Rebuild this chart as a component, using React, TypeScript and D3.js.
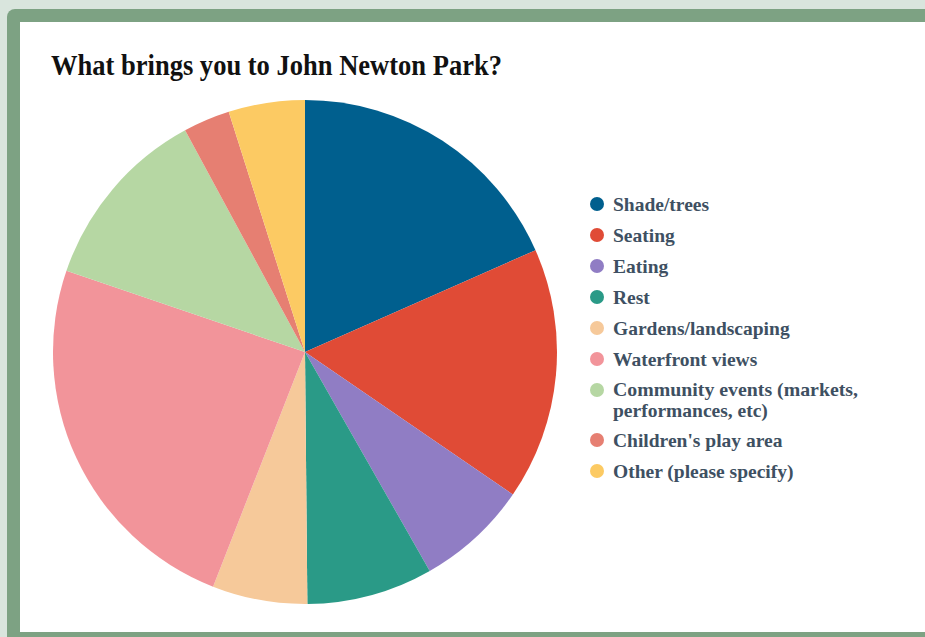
import React, { useEffect, useRef } from "react";
import * as d3 from "d3";

const categories = [
  "Shade/trees",
  "Seating",
  "Eating",
  "Rest",
  "Gardens/landscaping",
  "Waterfront views",
  "Community events (markets, performances, etc)",
  "Children's play area",
  "Other (please specify)",
];
const values = [18.4, 16.2, 7.2, 8.1, 6.1, 24.3, 11.9, 3.0, 4.9];
const colors = [
  "#005f8e",
  "#e04b36",
  "#907dc4",
  "#2a9a87",
  "#f6c99a",
  "#f2949a",
  "#b6d7a3",
  "#e67f72",
  "#fcca63",
];
const legendLines = [
  ["Shade/trees"],
  ["Seating"],
  ["Eating"],
  ["Rest"],
  ["Gardens/landscaping"],
  ["Waterfront views"],
  ["Community events (markets,", "performances, etc)"],
  ["Children's play area"],
  ["Other (please specify)"],
];

const W = 925;
const H = 637;

export default function App() {
  const ref = useRef<SVGSVGElement>(null);
  useEffect(() => {
    const svg = d3.select(ref.current);
    svg.selectAll("*").remove();

    svg.append("rect").attr("x", 0).attr("y", 0).attr("width", W).attr("height", H).attr("fill", "#d9e5dd");
    svg.append("rect").attr("x", 7).attr("y", 9).attr("width", W + 20).attr("height", H).attr("rx", 8).attr("fill", "#7da283");
    svg.append("rect").attr("x", 20).attr("y", 22).attr("width", W).attr("height", 610).attr("fill", "#ffffff");

    svg.append("text")
      .attr("x", 51).attr("y", 75)
      .attr("font-family", "'Liberation Serif', 'Times New Roman', serif")
      .attr("font-weight", "bold").attr("font-size", 30).attr("fill", "#111")
      .attr("textLength", 451).attr("lengthAdjust", "spacingAndGlyphs")
      .text("What brings you to John Newton Park?");

    const data = categories.map((c, i) => ({ c, v: values[i], col: colors[i] }));
    const pie = d3.pie<any>().value((d) => d.v).sort(null);
    const arc = d3.arc<any>().innerRadius(0).outerRadius(252);
    const g = svg.append("g").attr("transform", "translate(305,352)");
    g.selectAll("path").data(pie(data)).enter().append("path")
      .attr("d", arc as any).attr("fill", (d: any) => d.data.col);

    const lg = svg.append("g");
    let y = 204;
    legendLines.forEach((lines, i) => {
      const ty = lines.length > 1 ? y - 1 : y;
      lg.append("circle").attr("cx", 597).attr("cy", y).attr("r", 7).attr("fill", colors[i]);
      lines.forEach((t, j) => {
        lg.append("text")
          .attr("x", 613).attr("y", ty + j * 21).attr("dy", "0.35em")
          .attr("font-family", "'Liberation Serif', 'Times New Roman', serif")
          .attr("font-weight", "bold").attr("font-size", 19.5).attr("fill", "#3e5062")
          .attr("textLength", j === 0 && lines.length > 1 ? 245 : null)
          .attr("lengthAdjust", "spacingAndGlyphs")
          .text(t);
      });
      y += 31 + (lines.length - 1) * 19;
    });
  }, []);
  return <svg ref={ref} width={W} height={H} style={{ position: "absolute", left: 0, top: 0 }} />;
}
